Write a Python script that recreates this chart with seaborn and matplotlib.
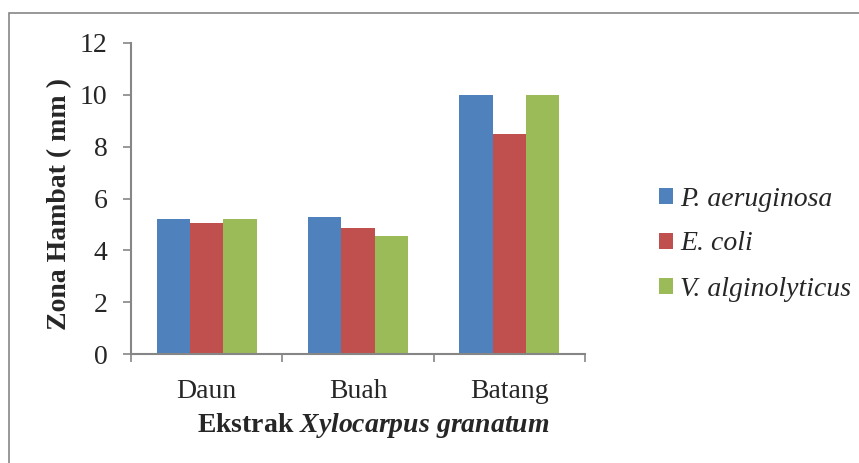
import matplotlib
matplotlib.use("Agg")
import matplotlib.pyplot as plt
import matplotlib.patches as mpatches
import seaborn as sns
import pandas as pd

categories = ["Daun", "Buah", "Batang"]
series = ["P. aeruginosa", "E. coli", "V. alginolyticus"]
p_aeruginosa = [5.2, 5.27, 10.0]
e_coli = [5.06, 4.86, 8.5]
v_alginolyticus = [5.2, 4.56, 10.0]
colors = ["#4F81BD", "#C0504D", "#9BBB59"]
yticks = [0, 2, 4, 6, 8, 10, 12]

rows = []
for name, vals in zip(series, [p_aeruginosa, e_coli, v_alginolyticus]):
    for c, v in zip(categories, vals):
        rows.append({"Ekstrak": c, "Bakteri": name, "Zona": v})
df = pd.DataFrame(rows)

sns.set_style("white")
plt.rcParams["font.family"] = ["Liberation Serif", "DejaVu Serif"]
plt.rcParams["mathtext.fontset"] = "custom"
plt.rcParams["mathtext.rm"] = "Liberation Serif:bold"
plt.rcParams["mathtext.bf"] = "Liberation Serif:bold"
plt.rcParams["mathtext.it"] = "Liberation Serif:italic:bold"
plt.rcParams["mathtext.bfit"] = "Liberation Serif:italic:bold"

fig = plt.figure(figsize=(8.59, 4.63), dpi=100)
ax = fig.add_axes([131/859, 1-354/463, (585-131)/859, (354-43)/463])

sns.barplot(data=df, x="Ekstrak", y="Zona", hue="Bakteri", order=categories,
            hue_order=series, palette=colors, width=0.66, gap=0, ax=ax,
            saturation=1, errorbar=None, edgecolor="none", linewidth=0)

ax.set_ylim(0, 12)
ax.set_xlim(-0.5, 2.5)
ax.set_yticks(yticks)
ax.set_yticklabels([str(t) for t in yticks], fontsize=20)
ax.set_xticks([0, 1, 2])
ax.set_xticklabels(categories, fontsize=20)
ax.set_xticks([-0.5, 0.5, 1.5, 2.5], minor=True)
ax.tick_params(axis="x", which="major", length=0, pad=18)
ax.tick_params(axis="x", which="minor", length=5.8, width=1.2, color="#868686", direction="out", bottom=True)
ax.tick_params(axis="y", which="major", length=5.8, width=1.2, color="#868686", direction="out", left=True, pad=11)

for s in ["top", "right"]:
    ax.spines[s].set_visible(False)
for s in ["left", "bottom"]:
    ax.spines[s].set_color("#868686")
    ax.spines[s].set_linewidth(1.5)

ax.set_ylabel("Zona Hambat ( mm )", fontsize=20, fontweight="bold")
ax.yaxis.set_label_coords(-(131-72)/454, (354-204)/311)
ax.set_xlabel("")
fig.text((207+540)/2/859, 1-425/463,
         r"Ekstrak $\mathit{Xylocarpus\ granatum}$",
         fontsize=20, fontweight="bold", ha="center", va="center")

handles, labels = ax.get_legend_handles_labels()
leg = ax.legend(handles, labels, loc="center left", bbox_to_anchor=(1.108, (354-244)/311),
                frameon=False, prop={"family": "Liberation Serif", "style": "italic", "size": 20},
                handlelength=0.5, handleheight=0.5, handletextpad=0.25, labelspacing=0.72)

border = mpatches.Rectangle((9/859, -0.05), 1.2, 1 - 13/463 + 0.05, transform=fig.transFigure,
                            fill=False, edgecolor="#868686", linewidth=1.2)
fig.patches.append(border)

fig.savefig("out.png", dpi=100)
